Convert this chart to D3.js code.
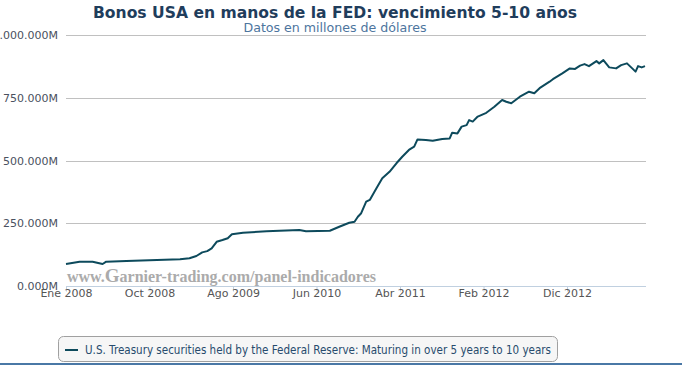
<!DOCTYPE html>
<html>
<head>
<meta charset="utf-8">
<script src="https://cdn.jsdelivr.net/npm/d3@7"></script>
<style>
  body { margin: 0; background: #fff; }
  svg { display: block; font-family: "DejaVu Sans", Verdana, sans-serif; }
</style>
</head>
<body>
<div id="chart"></div>
<script>
// weekly FED holdings (millions of dollars)
const dates = [
  "2008-01-02", "2008-02-20", "2008-04-07", "2008-05-13", "2008-05-26", "2008-08-07",
  "2008-11-25", "2009-02-16", "2009-03-22", "2009-04-16", "2009-05-07", "2009-05-25",
  "2009-06-10", "2009-06-28", "2009-07-19", "2009-08-07", "2009-08-22", "2009-10-01",
  "2009-12-25", "2010-02-10", "2010-04-22", "2010-05-16", "2010-08-10", "2010-09-13",
  "2010-10-19", "2010-11-07", "2010-11-19", "2010-12-01", "2010-12-19", "2011-01-01",
  "2011-01-25", "2011-02-15", "2011-03-13", "2011-04-07", "2011-04-28", "2011-05-22",
  "2011-06-10", "2011-06-22", "2011-07-22", "2011-08-16", "2011-09-19", "2011-10-16",
  "2011-10-25", "2011-11-13", "2011-11-28", "2011-12-16", "2011-12-25", "2012-01-07",
  "2012-01-25", "2012-02-25", "2012-03-25", "2012-04-22", "2012-05-07", "2012-05-25",
  "2012-06-25", "2012-07-28", "2012-08-16", "2012-09-04", "2012-10-10", "2012-10-22",
  "2012-11-25", "2012-12-22", "2013-01-10", "2013-01-28", "2013-02-13", "2013-03-01",
  "2013-03-28", "2013-04-07", "2013-04-22", "2013-05-13", "2013-06-07", "2013-06-25",
  "2013-07-16", "2013-08-04", "2013-08-16", "2013-08-25", "2013-09-07", "2013-09-19"
];
const values = [
  87600, 96800, 96800, 87600, 96800, 99600,
  103600, 106400, 110400, 119500, 134000, 139000,
  150000, 176000, 183000, 190000, 206000, 212000,
  218000, 220000, 223000, 218000, 220000, 236000,
  252000, 256000, 276000, 290000, 336000, 343000,
  389000, 429000, 455000, 489000, 515000, 542000,
  555000, 584000, 582000, 579000, 586000, 588000,
  611000, 608000, 635000, 641000, 661000, 655000,
  675000, 690000, 714000, 741000, 734000, 728000,
  754000, 774000, 768000, 788000, 814000, 824000,
  847000, 867000, 865000, 878000, 884000, 876000,
  896000, 887000, 900000, 871000, 867000, 880000,
  887000, 867000, 854000, 876000, 871000, 876000
];

const xTickDates = ["2008-01-02", "2008-10-29", "2009-08-26", "2010-06-23", "2011-04-20", "2012-02-15", "2012-12-12"];
const xTickLabels = ["Ene 2008", "Oct 2008", "Ago 2009", "Jun 2010", "Abr 2011", "Feb 2012", "Dic 2012"];
const yTicks = [0, 250000, 500000, 750000, 1000000];
const yTickLabels = ["0.000M", "250.000M", "500.000M", "750.000M", "1.000.000M"];

const title = "Bonos USA en manos de la FED: vencimiento 5-10 años";
const subtitle = "Datos en millones de dólares";
const seriesName = "U.S. Treasury securities held by the Federal Reserve: Maturing in over 5 years to 10 years";

const width = 682, height = 365;
const parse = d3.timeParse("%Y-%m-%d");
const data = dates.map((d, i) => ({ date: parse(d), value: values[i] }));

const svg = d3.select('#chart').append('svg')
  .attr('width', width)
  .attr('height', height);

const x = d3.scaleTime()
  .domain(d3.extent(data, d => d.date))
  .range([66, 645]);

const y = d3.scaleLinear()
  .domain([0, 1000000])
  .range([286, 35]);

// grid lines
svg.append('g')
  .selectAll('line')
  .data(yTicks.slice(1))
  .enter()
  .append('line')
  .attr('x1', 66).attr('x2', 646)
  .attr('y1', d => Math.round(y(d)) + 0.5)
  .attr('y2', d => Math.round(y(d)) + 0.5)
  .attr('stroke', '#c0c0c0')
  .attr('stroke-width', 1);

// y labels
svg.append('g')
  .selectAll('text')
  .data(yTicks)
  .enter()
  .append('text')
  .attr('x', 58)
  .attr('y', d => y(d) + 4)
  .attr('text-anchor', 'end')
  .attr('font-size', 11)
  .attr('fill', '#4a5160')
  .text((d, i) => yTickLabels[i]);

// watermark
const wm = svg.append('text')
  .attr('x', 67)
  .attr('y', 282)
  .attr('font-family', '"Liberation Serif", serif')
  .attr('font-size', 16)
  .attr('font-weight', 'bold')
  .attr('fill', '#ababab')
  .attr('textLength', 309)
  .attr('lengthAdjust', 'spacingAndGlyphs');
wm.append('tspan').text('www.');
wm.append('tspan').attr('font-size', 19).text('G');
wm.append('tspan').text('arnier-trading.com/panel-indicadores');

// x axis
const xAxis = d3.axisBottom(x)
  .tickValues(xTickDates.map(parse))
  .tickFormat((d, i) => xTickLabels[i])
  .tickSizeOuter(0)
  .tickSize(5);

const gx = svg.append('g')
  .attr('transform', 'translate(0,286.5)')
  .call(xAxis);
gx.select('.domain').remove();
gx.append('line')
  .attr('x1', 66).attr('x2', 646)
  .attr('stroke', '#c0d0e0');
gx.selectAll('.tick line').attr('stroke', '#c0d0e0');
gx.selectAll('.tick text')
  .attr('font-family', '"DejaVu Sans", sans-serif')
  .attr('font-size', 11)
  .attr('fill', '#555')
  .attr('dy', '0.55em')
  .attr('y', 4);

// series line
const line = d3.line()
  .x(d => x(d.date))
  .y(d => y(d.value));

svg.append('path')
  .datum(data)
  .attr('fill', 'none')
  .attr('stroke', '#0d4a5c')
  .attr('stroke-width', 2)
  .attr('stroke-linejoin', 'round')
  .attr('d', line);

// titles
svg.append('text')
  .attr('x', 335).attr('y', 18)
  .attr('text-anchor', 'middle')
  .attr('font-size', 16)
  .attr('font-weight', 'bold')
  .attr('fill', '#1f3d5c')
  .attr('textLength', 484)
  .attr('lengthAdjust', 'spacingAndGlyphs')
  .text(title);

svg.append('text')
  .attr('x', 335).attr('y', 31.5)
  .attr('text-anchor', 'middle')
  .attr('font-size', 12)
  .attr('fill', '#4d759e')
  .attr('textLength', 183)
  .attr('lengthAdjust', 'spacingAndGlyphs')
  .text(subtitle);

// legend
const legend = svg.append('g');
legend.append('rect')
  .attr('x', 58.5).attr('y', 336.5)
  .attr('width', 499).attr('height', 25)
  .attr('rx', 5)
  .attr('fill', '#f6f6f6')
  .attr('stroke', '#a0a0a0');
legend.append('line')
  .attr('x1', 65).attr('x2', 78)
  .attr('y1', 350).attr('y2', 350)
  .attr('stroke', '#0d4a5c')
  .attr('stroke-width', 2);
legend.append('text')
  .attr('x', 85).attr('y', 354)
  .attr('font-size', 12)
  .attr('fill', '#274b6d')
  .attr('textLength', 466)
  .attr('lengthAdjust', 'spacingAndGlyphs')
  .text(seriesName);

// page border at the bottom
svg.append('line')
  .attr('x1', 0).attr('x2', width)
  .attr('y1', 364).attr('y2', 364)
  .attr('stroke', '#4a78a6')
  .attr('stroke-width', 2);
</script>
</body>
</html>
